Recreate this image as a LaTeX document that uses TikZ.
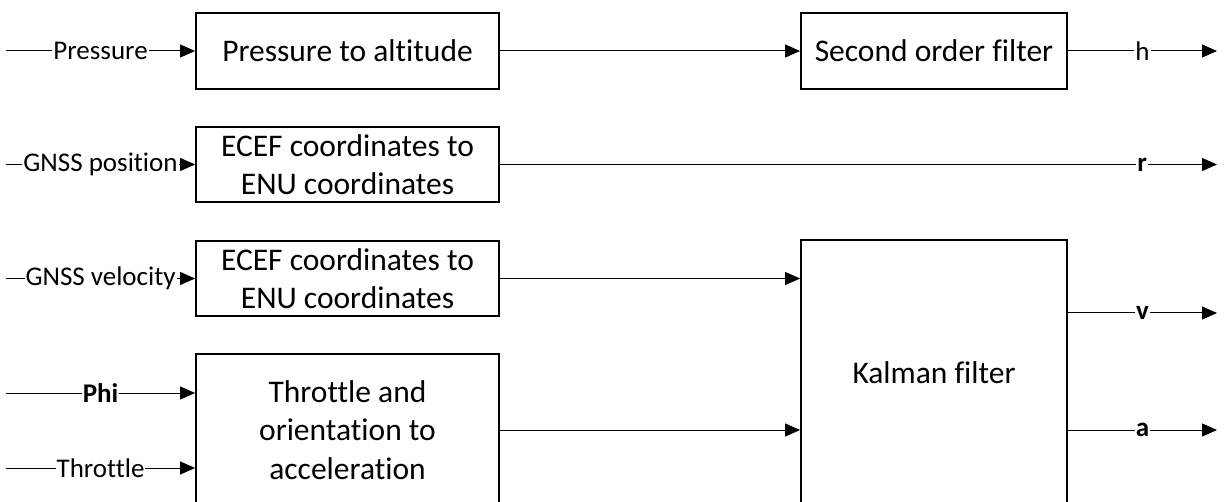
\documentclass[tikz,border=0pt]{standalone}
\usepackage{fontspec}
\setmainfont{Carlito}[Ligatures={NoCommon}]
\usetikzlibrary{arrows.meta}
\begin{document}
\begin{tikzpicture}[x=1pt,y=-1pt,
  box/.style={draw,line width=1.8pt,align=center,font=\fontsize{31.5}{38.5}\selectfont,inner sep=0pt},
  lbl/.style={fill=white,inner sep=1pt,font=\fontsize{27}{31}\selectfont},
  conn/.style={line width=1pt,-{Triangle[length=15pt,width=13pt]}}]
\useasboundingbox (0,0) rectangle (1225,502);
\clip (0,0) rectangle (1225,502);
% boxes
\node[box,minimum width=303pt,minimum height=76pt] (p2a) at (347.5,51) {Pressure to altitude};
\node[box,minimum width=303pt,minimum height=75pt] (ecef1) at (347.5,164.5) {ECEF coordinates to\\ENU coordinates};
\node[box,minimum width=303pt,minimum height=75pt] (ecef2) at (347.5,278.5) {ECEF coordinates to\\ENU coordinates};
\node[box,minimum width=303pt,minimum height=152pt] (tha) at (347.5,430) {Throttle and\\orientation to\\acceleration};
\node[box,minimum width=266pt,minimum height=76pt] (sof) at (934,51) {Second order filter};
\node[box,minimum width=266pt,minimum height=266pt] (kal) at (934,373) {Kalman filter};
% free ends
\coordinate (inP) at (6,51);
\coordinate (inGp) at (6,164.5);
\coordinate (inGv) at (6,278.5);
\coordinate (inPhi) at (6,393);
\coordinate (inT) at (6,468);
\coordinate (outh) at (1217,51);
\coordinate (outr) at (1217,164.5);
\coordinate (outv) at (1217,313);
\coordinate (outa) at (1217,430);
% inputs
\draw[conn] (inP) -- node[lbl] {Pressure} (p2a);
\draw[conn] (inGp) -- node[lbl] {GNSS position} (ecef1);
\draw[conn] (inGv) -- node[lbl] {GNSS velocity} (ecef2);
\draw[conn] (inPhi) -- node[lbl] {\textbf{Phi}} (inPhi -| tha.west);
\draw[conn] (inT) -- node[lbl] {Throttle} (inT -| tha.west);
% internal
\draw[conn] (p2a) -- (sof);
\draw[conn] (ecef2) -- (ecef2 -| kal.west);
\draw[conn] (tha) -- (tha -| kal.west);
% outputs
\draw[conn] (sof) -- node[lbl] {h} (outh);
\draw[conn] (ecef1) -- node[lbl,pos=0.8955] {\textbf{r}} (outr);
\draw[conn] (outv -| kal.east) -- node[lbl] {\textbf{v}} (outv);
\draw[conn] (outa -| kal.east) -- node[lbl] {\textbf{a}} (outa);
\end{tikzpicture}
\end{document}
